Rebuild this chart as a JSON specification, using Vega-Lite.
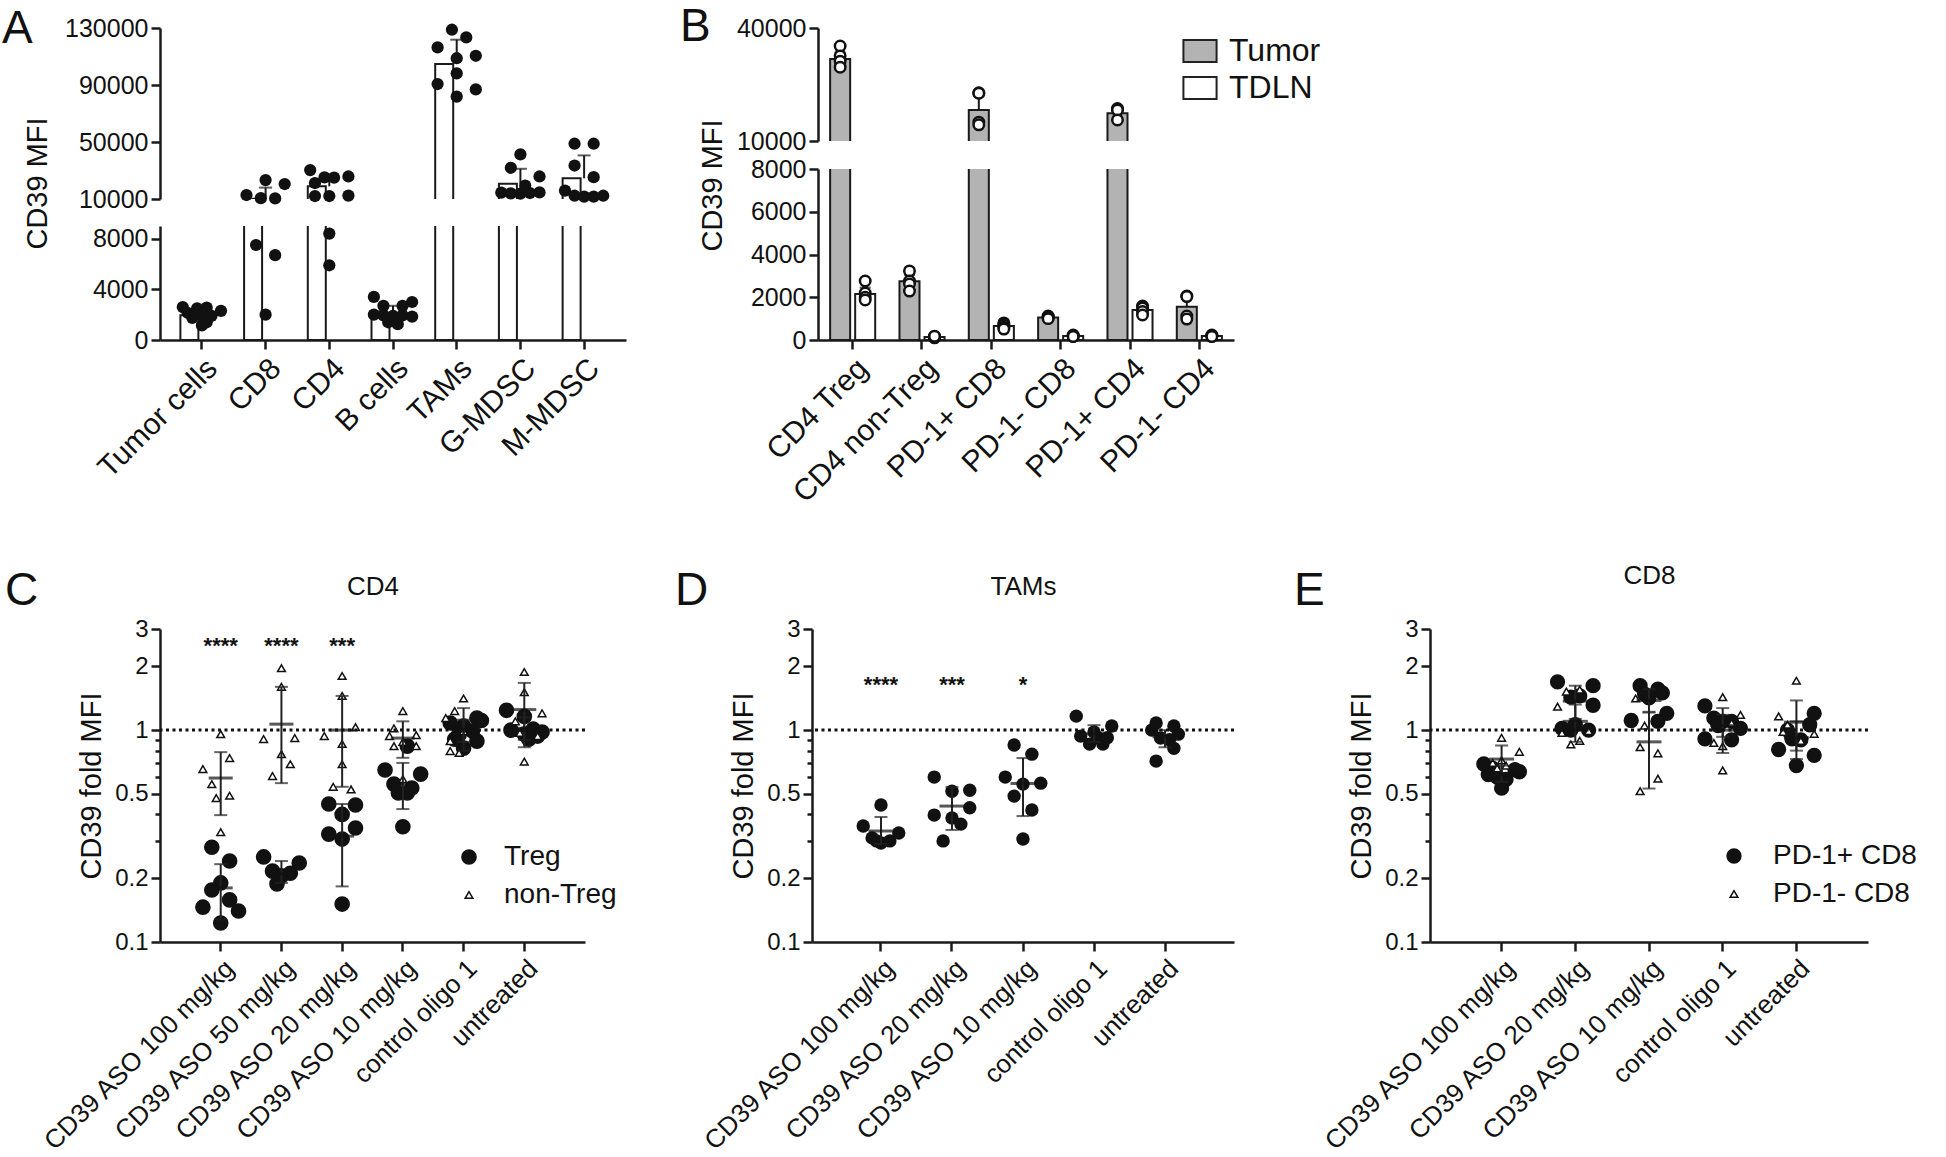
{
"$schema": "https://vega.github.io/schema/vega-lite/v6.json",
"background": "white",
"padding": {"left": 2, "top": 4, "right": 2, "bottom": 2},
"config": {
  "font": "Liberation Sans",
  "view": {"stroke": null},
  "axis": {"domainColor": "#1a1a1a", "domainWidth": 2.5, "tickColor": "#1a1a1a", "tickWidth": 2.5, "tickSize": 9, "labelColor": "#111", "titleColor": "#111", "labelFontSize": 25, "titleFontSize": 29, "titleFontWeight": "normal", "grid": false, "labelPadding": 3, "labelLimit": 400},
  "legend": {"labelColor": "#111", "labelLimit": 400, "padding": 0},
  "title": {"fontWeight": "normal", "color": "#111", "fontSize": 46, "offset": 0}
},
"datasets": {
  "a_pts": [
    {"g":"Tumor cells","v":2600,"r":1},{"g":"Tumor cells","v":2500,"r":4},{"g":"Tumor cells","v":2550,"r":6},{"g":"Tumor cells","v":2300,"r":9},{"g":"Tumor cells","v":2150,"r":2},{"g":"Tumor cells","v":2000,"r":5},{"g":"Tumor cells","v":1900,"r":7},{"g":"Tumor cells","v":1750,"r":3},{"g":"Tumor cells","v":1400,"r":6},{"g":"Tumor cells","v":1150,"r":5},
    {"g":"CD8","v":23300,"r":5},{"g":"CD8","v":20500,"r":9},{"g":"CD8","v":12800,"r":1},{"g":"CD8","v":10600,"r":4},{"g":"CD8","v":10400,"r":7},{"g":"CD8","v":7500,"r":3},{"g":"CD8","v":6700,"r":7},{"g":"CD8","v":2000,"r":5},
    {"g":"CD4","v":30300,"r":1},{"g":"CD4","v":25200,"r":4},{"g":"CD4","v":25000,"r":6},{"g":"CD4","v":25800,"r":9},{"g":"CD4","v":21200,"r":2},{"g":"CD4","v":12100,"r":2},{"g":"CD4","v":12100,"r":5},{"g":"CD4","v":12400,"r":9},{"g":"CD4","v":8400,"r":5},{"g":"CD4","v":5900,"r":5},
    {"g":"B cells","v":3400,"r":1},{"g":"B cells","v":3000,"r":9},{"g":"B cells","v":2700,"r":3},{"g":"B cells","v":2700,"r":7},{"g":"B cells","v":2000,"r":1},{"g":"B cells","v":1950,"r":3},{"g":"B cells","v":1900,"r":5},{"g":"B cells","v":1950,"r":7},{"g":"B cells","v":1850,"r":9},{"g":"B cells","v":1400,"r":4},{"g":"B cells","v":1250,"r":6},
    {"g":"TAMs","v":128800,"r":4},{"g":"TAMs","v":123400,"r":7},{"g":"TAMs","v":116400,"r":1},{"g":"TAMs","v":110500,"r":9},{"g":"TAMs","v":108800,"r":5},{"g":"TAMs","v":98200,"r":5},{"g":"TAMs","v":90700,"r":1},{"g":"TAMs","v":86900,"r":9},{"g":"TAMs","v":81800,"r":5},
    {"g":"G-MDSC","v":41300,"r":5},{"g":"G-MDSC","v":31900,"r":3},{"g":"G-MDSC","v":25800,"r":9},{"g":"G-MDSC","v":19400,"r":6},{"g":"G-MDSC","v":14500,"r":1},{"g":"G-MDSC","v":14000,"r":3},{"g":"G-MDSC","v":13800,"r":5},{"g":"G-MDSC","v":14200,"r":7},{"g":"G-MDSC","v":14600,"r":9},
    {"g":"M-MDSC","v":48800,"r":3},{"g":"M-MDSC","v":48800,"r":7},{"g":"M-MDSC","v":33500,"r":3},{"g":"M-MDSC","v":25300,"r":7},{"g":"M-MDSC","v":15900,"r":1},{"g":"M-MDSC","v":12300,"r":3},{"g":"M-MDSC","v":11700,"r":5},{"g":"M-MDSC","v":11700,"r":7},{"g":"M-MDSC","v":12300,"r":9}
  ],
  "a_sum": [
    {"g":"Tumor cells","m":1950,"hi":2350},{"g":"CD8","m":10200,"hi":18000},{"g":"CD4","m":18900,"hi":23000},{"g":"B cells","m":2140,"hi":2700},{"g":"TAMs","m":104700,"hi":121800},{"g":"G-MDSC","m":20700,"hi":31200},{"g":"M-MDSC","m":24500,"hi":40600}
  ],
  "b_pts": [
    {"g":"CD4 Treg","t":"Tumor","v":35200},{"g":"CD4 Treg","t":"Tumor","v":32600},{"g":"CD4 Treg","t":"Tumor","v":31200},{"g":"CD4 Treg","t":"Tumor","v":29600},
    {"g":"CD4 Treg","t":"TDLN","v":2760},{"g":"CD4 Treg","t":"TDLN","v":2200},{"g":"CD4 Treg","t":"TDLN","v":2000},{"g":"CD4 Treg","t":"TDLN","v":1870},
    {"g":"CD4 non-Treg","t":"Tumor","v":3230},{"g":"CD4 non-Treg","t":"Tumor","v":2760},{"g":"CD4 non-Treg","t":"Tumor","v":2620},{"g":"CD4 non-Treg","t":"Tumor","v":2290},
    {"g":"CD4 non-Treg","t":"TDLN","v":100},{"g":"CD4 non-Treg","t":"TDLN","v":130},{"g":"CD4 non-Treg","t":"TDLN","v":160},{"g":"CD4 non-Treg","t":"TDLN","v":180},
    {"g":"PD-1+ CD8","t":"Tumor","v":22800},{"g":"PD-1+ CD8","t":"Tumor","v":22700},{"g":"PD-1+ CD8","t":"Tumor","v":15000},{"g":"PD-1+ CD8","t":"Tumor","v":14300},
    {"g":"PD-1+ CD8","t":"TDLN","v":800},{"g":"PD-1+ CD8","t":"TDLN","v":700},{"g":"PD-1+ CD8","t":"TDLN","v":600},{"g":"PD-1+ CD8","t":"TDLN","v":510},
    {"g":"PD-1- CD8","t":"Tumor","v":1120},{"g":"PD-1- CD8","t":"Tumor","v":1100},{"g":"PD-1- CD8","t":"Tumor","v":1050},{"g":"PD-1- CD8","t":"Tumor","v":1000},
    {"g":"PD-1- CD8","t":"TDLN","v":230},{"g":"PD-1- CD8","t":"TDLN","v":200},{"g":"PD-1- CD8","t":"TDLN","v":180},{"g":"PD-1- CD8","t":"TDLN","v":160},
    {"g":"PD-1+ CD4","t":"Tumor","v":18600},{"g":"PD-1+ CD4","t":"Tumor","v":18400},{"g":"PD-1+ CD4","t":"Tumor","v":18200},{"g":"PD-1+ CD4","t":"Tumor","v":15600},
    {"g":"PD-1+ CD4","t":"TDLN","v":1590},{"g":"PD-1+ CD4","t":"TDLN","v":1500},{"g":"PD-1+ CD4","t":"TDLN","v":1330},{"g":"PD-1+ CD4","t":"TDLN","v":1170},
    {"g":"PD-1- CD4","t":"Tumor","v":2060},{"g":"PD-1- CD4","t":"Tumor","v":2030},{"g":"PD-1- CD4","t":"Tumor","v":1120},{"g":"PD-1- CD4","t":"Tumor","v":980},
    {"g":"PD-1- CD4","t":"TDLN","v":230},{"g":"PD-1- CD4","t":"TDLN","v":200},{"g":"PD-1- CD4","t":"TDLN","v":180},{"g":"PD-1- CD4","t":"TDLN","v":160}
  ],
  "b_sum": [
    {"g":"CD4 Treg","t":"Tumor","m":31800,"hi":33500},{"g":"CD4 Treg","t":"TDLN","m":2150,"hi":2450},
    {"g":"CD4 non-Treg","t":"Tumor","m":2750,"hi":3050},{"g":"CD4 non-Treg","t":"TDLN","m":140,"hi":170},
    {"g":"PD-1+ CD8","t":"Tumor","m":18200,"hi":21900},{"g":"PD-1+ CD8","t":"TDLN","m":650,"hi":780},
    {"g":"PD-1- CD8","t":"Tumor","m":1050,"hi":1110},{"g":"PD-1- CD8","t":"TDLN","m":190,"hi":230},
    {"g":"PD-1+ CD4","t":"Tumor","m":17400,"hi":18900},{"g":"PD-1+ CD4","t":"TDLN","m":1400,"hi":1580},
    {"g":"PD-1- CD4","t":"Tumor","m":1550,"hi":2100},{"g":"PD-1- CD4","t":"TDLN","m":190,"hi":230}
  ],
  "c_pts": [
    {"g":"CD39 ASO 100 mg/kg","t":"Treg","v":0.28,"r":3},{"g":"CD39 ASO 100 mg/kg","t":"Treg","v":0.241,"r":7},{"g":"CD39 ASO 100 mg/kg","t":"Treg","v":0.19,"r":5},{"g":"CD39 ASO 100 mg/kg","t":"Treg","v":0.176,"r":3},{"g":"CD39 ASO 100 mg/kg","t":"Treg","v":0.158,"r":7},{"g":"CD39 ASO 100 mg/kg","t":"Treg","v":0.146,"r":1},{"g":"CD39 ASO 100 mg/kg","t":"Treg","v":0.14,"r":9},{"g":"CD39 ASO 100 mg/kg","t":"Treg","v":0.123,"r":5},
    {"g":"CD39 ASO 100 mg/kg","t":"non-Treg","v":0.957,"r":5},{"g":"CD39 ASO 100 mg/kg","t":"non-Treg","v":0.738,"r":7},{"g":"CD39 ASO 100 mg/kg","t":"non-Treg","v":0.655,"r":1},{"g":"CD39 ASO 100 mg/kg","t":"non-Treg","v":0.556,"r":3},{"g":"CD39 ASO 100 mg/kg","t":"non-Treg","v":0.478,"r":4},{"g":"CD39 ASO 100 mg/kg","t":"non-Treg","v":0.49,"r":7},{"g":"CD39 ASO 100 mg/kg","t":"non-Treg","v":0.33,"r":5},
    {"g":"CD39 ASO 50 mg/kg","t":"Treg","v":0.252,"r":1},{"g":"CD39 ASO 50 mg/kg","t":"Treg","v":0.236,"r":9},{"g":"CD39 ASO 50 mg/kg","t":"Treg","v":0.216,"r":3},{"g":"CD39 ASO 50 mg/kg","t":"Treg","v":0.211,"r":7},{"g":"CD39 ASO 50 mg/kg","t":"Treg","v":0.205,"r":5},{"g":"CD39 ASO 50 mg/kg","t":"Treg","v":0.188,"r":4},
    {"g":"CD39 ASO 50 mg/kg","t":"non-Treg","v":1.96,"r":5},{"g":"CD39 ASO 50 mg/kg","t":"non-Treg","v":1.6,"r":5},{"g":"CD39 ASO 50 mg/kg","t":"non-Treg","v":0.907,"r":1},{"g":"CD39 ASO 50 mg/kg","t":"non-Treg","v":0.917,"r":8},{"g":"CD39 ASO 50 mg/kg","t":"non-Treg","v":0.77,"r":5},{"g":"CD39 ASO 50 mg/kg","t":"non-Treg","v":0.69,"r":7},{"g":"CD39 ASO 50 mg/kg","t":"non-Treg","v":0.607,"r":3},
    {"g":"CD39 ASO 20 mg/kg","t":"Treg","v":0.448,"r":2},{"g":"CD39 ASO 20 mg/kg","t":"Treg","v":0.443,"r":8},{"g":"CD39 ASO 20 mg/kg","t":"Treg","v":0.40,"r":5},{"g":"CD39 ASO 20 mg/kg","t":"Treg","v":0.323,"r":2},{"g":"CD39 ASO 20 mg/kg","t":"Treg","v":0.345,"r":8},{"g":"CD39 ASO 20 mg/kg","t":"Treg","v":0.306,"r":5},{"g":"CD39 ASO 20 mg/kg","t":"Treg","v":0.151,"r":5},
    {"g":"CD39 ASO 20 mg/kg","t":"non-Treg","v":1.8,"r":5},{"g":"CD39 ASO 20 mg/kg","t":"non-Treg","v":1.45,"r":5},{"g":"CD39 ASO 20 mg/kg","t":"non-Treg","v":0.937,"r":1},{"g":"CD39 ASO 20 mg/kg","t":"non-Treg","v":1.033,"r":8},{"g":"CD39 ASO 20 mg/kg","t":"non-Treg","v":0.86,"r":5},{"g":"CD39 ASO 20 mg/kg","t":"non-Treg","v":0.69,"r":5},{"g":"CD39 ASO 20 mg/kg","t":"non-Treg","v":0.54,"r":3},{"g":"CD39 ASO 20 mg/kg","t":"non-Treg","v":0.525,"r":7},
    {"g":"CD39 ASO 10 mg/kg","t":"Treg","v":0.84,"r":6},{"g":"CD39 ASO 10 mg/kg","t":"Treg","v":0.648,"r":1},{"g":"CD39 ASO 10 mg/kg","t":"Treg","v":0.62,"r":9},{"g":"CD39 ASO 10 mg/kg","t":"Treg","v":0.556,"r":3},{"g":"CD39 ASO 10 mg/kg","t":"Treg","v":0.533,"r":7},{"g":"CD39 ASO 10 mg/kg","t":"Treg","v":0.505,"r":4},{"g":"CD39 ASO 10 mg/kg","t":"Treg","v":0.505,"r":6},{"g":"CD39 ASO 10 mg/kg","t":"Treg","v":0.35,"r":5},
    {"g":"CD39 ASO 10 mg/kg","t":"non-Treg","v":1.23,"r":5},{"g":"CD39 ASO 10 mg/kg","t":"non-Treg","v":1.02,"r":3},{"g":"CD39 ASO 10 mg/kg","t":"non-Treg","v":0.947,"r":8},{"g":"CD39 ASO 10 mg/kg","t":"non-Treg","v":0.937,"r":2},{"g":"CD39 ASO 10 mg/kg","t":"non-Treg","v":0.84,"r":3},{"g":"CD39 ASO 10 mg/kg","t":"non-Treg","v":0.84,"r":8},{"g":"CD39 ASO 10 mg/kg","t":"non-Treg","v":0.88,"r":5},{"g":"CD39 ASO 10 mg/kg","t":"non-Treg","v":0.587,"r":5},
    {"g":"control oligo 1","t":"Treg","v":1.14,"r":8},{"g":"control oligo 1","t":"Treg","v":1.11,"r":9},{"g":"control oligo 1","t":"Treg","v":1.08,"r":2},{"g":"control oligo 1","t":"Treg","v":1.045,"r":5},{"g":"control oligo 1","t":"Treg","v":0.99,"r":7},{"g":"control oligo 1","t":"Treg","v":0.906,"r":3},{"g":"control oligo 1","t":"Treg","v":0.887,"r":8},{"g":"control oligo 1","t":"Treg","v":0.822,"r":5},{"g":"control oligo 1","t":"Treg","v":0.95,"r":4},
    {"g":"control oligo 1","t":"non-Treg","v":1.41,"r":5},{"g":"control oligo 1","t":"non-Treg","v":1.23,"r":3},{"g":"control oligo 1","t":"non-Treg","v":1.14,"r":1},{"g":"control oligo 1","t":"non-Treg","v":0.99,"r":5},{"g":"control oligo 1","t":"non-Treg","v":0.887,"r":2},{"g":"control oligo 1","t":"non-Treg","v":0.796,"r":2},{"g":"control oligo 1","t":"non-Treg","v":0.78,"r":4},
    {"g":"untreated","t":"Treg","v":1.24,"r":1},{"g":"untreated","t":"Treg","v":1.16,"r":5},{"g":"untreated","t":"Treg","v":1.0,"r":2},{"g":"untreated","t":"Treg","v":1.01,"r":7},{"g":"untreated","t":"Treg","v":0.957,"r":5},{"g":"untreated","t":"Treg","v":0.937,"r":8},{"g":"untreated","t":"Treg","v":0.906,"r":6},{"g":"untreated","t":"Treg","v":0.98,"r":9},
    {"g":"untreated","t":"non-Treg","v":1.88,"r":5},{"g":"untreated","t":"non-Treg","v":1.51,"r":5},{"g":"untreated","t":"non-Treg","v":1.2,"r":9},{"g":"untreated","t":"non-Treg","v":1.1,"r":3},{"g":"untreated","t":"non-Treg","v":0.937,"r":8},{"g":"untreated","t":"non-Treg","v":0.71,"r":5},{"g":"untreated","t":"non-Treg","v":0.97,"r":4}
  ],
  "c_sum": [
    {"g":"CD39 ASO 100 mg/kg","t":"Treg","m":0.18,"lo":0.128,"hi":0.233},{"g":"CD39 ASO 100 mg/kg","t":"non-Treg","m":0.594,"lo":0.397,"hi":0.787},
    {"g":"CD39 ASO 50 mg/kg","t":"Treg","m":0.21,"lo":0.19,"hi":0.241},{"g":"CD39 ASO 50 mg/kg","t":"non-Treg","m":1.067,"lo":0.562,"hi":1.6},
    {"g":"CD39 ASO 20 mg/kg","t":"Treg","m":0.316,"lo":0.183,"hi":0.448},{"g":"CD39 ASO 20 mg/kg","t":"non-Treg","m":1.0,"lo":0.54,"hi":1.45},
    {"g":"CD39 ASO 10 mg/kg","t":"Treg","m":0.556,"lo":0.424,"hi":0.70},{"g":"CD39 ASO 10 mg/kg","t":"non-Treg","m":0.917,"lo":0.74,"hi":1.1},
    {"g":"control oligo 1","t":"Treg","m":0.99,"lo":0.88,"hi":1.12},{"g":"control oligo 1","t":"non-Treg","m":1.01,"lo":0.80,"hi":1.27},
    {"g":"untreated","t":"Treg","m":1.02,"lo":0.90,"hi":1.15},{"g":"untreated","t":"non-Treg","m":1.25,"lo":0.83,"hi":1.67}
  ],
  "c_sig": [
    {"g":"CD39 ASO 100 mg/kg","s":"****"},{"g":"CD39 ASO 50 mg/kg","s":"****"},{"g":"CD39 ASO 20 mg/kg","s":"***"}
  ],
  "d_pts": [
    {"g":"CD39 ASO 100 mg/kg","v":0.443,"r":5},{"g":"CD39 ASO 100 mg/kg","v":0.353,"r":1},{"g":"CD39 ASO 100 mg/kg","v":0.31,"r":3},{"g":"CD39 ASO 100 mg/kg","v":0.293,"r":5},{"g":"CD39 ASO 100 mg/kg","v":0.30,"r":7},{"g":"CD39 ASO 100 mg/kg","v":0.327,"r":9},{"g":"CD39 ASO 100 mg/kg","v":0.30,"r":4},
    {"g":"CD39 ASO 20 mg/kg","v":0.60,"r":1},{"g":"CD39 ASO 20 mg/kg","v":0.515,"r":5},{"g":"CD39 ASO 20 mg/kg","v":0.52,"r":9},{"g":"CD39 ASO 20 mg/kg","v":0.397,"r":1},{"g":"CD39 ASO 20 mg/kg","v":0.43,"r":9},{"g":"CD39 ASO 20 mg/kg","v":0.385,"r":5},{"g":"CD39 ASO 20 mg/kg","v":0.36,"r":7},{"g":"CD39 ASO 20 mg/kg","v":0.30,"r":3},
    {"g":"CD39 ASO 10 mg/kg","v":0.85,"r":3},{"g":"CD39 ASO 10 mg/kg","v":0.77,"r":7},{"g":"CD39 ASO 10 mg/kg","v":0.60,"r":1},{"g":"CD39 ASO 10 mg/kg","v":0.556,"r":5},{"g":"CD39 ASO 10 mg/kg","v":0.562,"r":9},{"g":"CD39 ASO 10 mg/kg","v":0.488,"r":3},{"g":"CD39 ASO 10 mg/kg","v":0.42,"r":7},{"g":"CD39 ASO 10 mg/kg","v":0.306,"r":5},
    {"g":"control oligo 1","v":1.164,"r":1},{"g":"control oligo 1","v":1.045,"r":9},{"g":"control oligo 1","v":0.937,"r":2},{"g":"control oligo 1","v":0.917,"r":6},{"g":"control oligo 1","v":0.859,"r":4},{"g":"control oligo 1","v":0.86,"r":7},{"g":"control oligo 1","v":0.92,"r":8},{"g":"control oligo 1","v":0.98,"r":5},
    {"g":"untreated","v":1.08,"r":3},{"g":"untreated","v":1.045,"r":7},{"g":"untreated","v":1.0,"r":2},{"g":"untreated","v":0.957,"r":8},{"g":"untreated","v":0.917,"r":4},{"g":"untreated","v":0.90,"r":6},{"g":"untreated","v":0.82,"r":7},{"g":"untreated","v":0.714,"r":3}
  ],
  "d_sum": [
    {"g":"CD39 ASO 100 mg/kg","m":0.334,"lo":0.29,"hi":0.389},{"g":"CD39 ASO 20 mg/kg","m":0.438,"lo":0.338,"hi":0.538},{"g":"CD39 ASO 10 mg/kg","m":0.56,"lo":0.393,"hi":0.738},{"g":"control oligo 1","m":0.96,"lo":0.88,"hi":1.055},{"g":"untreated","m":0.93,"lo":0.83,"hi":1.0}
  ],
  "d_sig": [
    {"g":"CD39 ASO 100 mg/kg","s":"****"},{"g":"CD39 ASO 20 mg/kg","s":"***"},{"g":"CD39 ASO 10 mg/kg","s":"*"}
  ],
  "e_pts": [
    {"g":"CD39 ASO 100 mg/kg","t":"PD-1+ CD8","v":0.692,"r":1},{"g":"CD39 ASO 100 mg/kg","t":"PD-1+ CD8","v":0.66,"r":3},{"g":"CD39 ASO 100 mg/kg","t":"PD-1+ CD8","v":0.617,"r":2},{"g":"CD39 ASO 100 mg/kg","t":"PD-1+ CD8","v":0.636,"r":9},{"g":"CD39 ASO 100 mg/kg","t":"PD-1+ CD8","v":0.585,"r":6},{"g":"CD39 ASO 100 mg/kg","t":"PD-1+ CD8","v":0.60,"r":4},{"g":"CD39 ASO 100 mg/kg","t":"PD-1+ CD8","v":0.532,"r":5},{"g":"CD39 ASO 100 mg/kg","t":"PD-1+ CD8","v":0.65,"r":8},
    {"g":"CD39 ASO 100 mg/kg","t":"PD-1- CD8","v":0.92,"r":5},{"g":"CD39 ASO 100 mg/kg","t":"PD-1- CD8","v":0.79,"r":9},{"g":"CD39 ASO 100 mg/kg","t":"PD-1- CD8","v":0.70,"r":3},{"g":"CD39 ASO 100 mg/kg","t":"PD-1- CD8","v":0.68,"r":6},{"g":"CD39 ASO 100 mg/kg","t":"PD-1- CD8","v":0.66,"r":4},{"g":"CD39 ASO 100 mg/kg","t":"PD-1- CD8","v":0.72,"r":5},
    {"g":"CD39 ASO 20 mg/kg","t":"PD-1+ CD8","v":1.69,"r":1},{"g":"CD39 ASO 20 mg/kg","t":"PD-1+ CD8","v":1.62,"r":9},{"g":"CD39 ASO 20 mg/kg","t":"PD-1+ CD8","v":1.45,"r":6},{"g":"CD39 ASO 20 mg/kg","t":"PD-1+ CD8","v":1.43,"r":4},{"g":"CD39 ASO 20 mg/kg","t":"PD-1+ CD8","v":1.31,"r":9},{"g":"CD39 ASO 20 mg/kg","t":"PD-1+ CD8","v":1.02,"r":2},{"g":"CD39 ASO 20 mg/kg","t":"PD-1+ CD8","v":1.0,"r":8},{"g":"CD39 ASO 20 mg/kg","t":"PD-1+ CD8","v":1.06,"r":5},{"g":"CD39 ASO 20 mg/kg","t":"PD-1+ CD8","v":1.0,"r":4},
    {"g":"CD39 ASO 20 mg/kg","t":"PD-1- CD8","v":1.55,"r":6},{"g":"CD39 ASO 20 mg/kg","t":"PD-1- CD8","v":1.52,"r":3},{"g":"CD39 ASO 20 mg/kg","t":"PD-1- CD8","v":1.29,"r":1},{"g":"CD39 ASO 20 mg/kg","t":"PD-1- CD8","v":0.99,"r":8},{"g":"CD39 ASO 20 mg/kg","t":"PD-1- CD8","v":0.97,"r":2},{"g":"CD39 ASO 20 mg/kg","t":"PD-1- CD8","v":0.89,"r":6},{"g":"CD39 ASO 20 mg/kg","t":"PD-1- CD8","v":0.855,"r":4},
    {"g":"CD39 ASO 10 mg/kg","t":"PD-1+ CD8","v":1.62,"r":3},{"g":"CD39 ASO 10 mg/kg","t":"PD-1+ CD8","v":1.56,"r":7},{"g":"CD39 ASO 10 mg/kg","t":"PD-1+ CD8","v":1.5,"r":8},{"g":"CD39 ASO 10 mg/kg","t":"PD-1+ CD8","v":1.48,"r":4},{"g":"CD39 ASO 10 mg/kg","t":"PD-1+ CD8","v":1.2,"r":9},{"g":"CD39 ASO 10 mg/kg","t":"PD-1+ CD8","v":1.11,"r":1},{"g":"CD39 ASO 10 mg/kg","t":"PD-1+ CD8","v":1.1,"r":7},{"g":"CD39 ASO 10 mg/kg","t":"PD-1+ CD8","v":1.42,"r":5},
    {"g":"CD39 ASO 10 mg/kg","t":"PD-1- CD8","v":1.41,"r":2},{"g":"CD39 ASO 10 mg/kg","t":"PD-1- CD8","v":1.05,"r":4},{"g":"CD39 ASO 10 mg/kg","t":"PD-1- CD8","v":0.83,"r":3},{"g":"CD39 ASO 10 mg/kg","t":"PD-1- CD8","v":0.777,"r":7},{"g":"CD39 ASO 10 mg/kg","t":"PD-1- CD8","v":0.59,"r":7},{"g":"CD39 ASO 10 mg/kg","t":"PD-1- CD8","v":0.515,"r":3},
    {"g":"control oligo 1","t":"PD-1+ CD8","v":1.3,"r":1},{"g":"control oligo 1","t":"PD-1+ CD8","v":1.14,"r":3},{"g":"control oligo 1","t":"PD-1+ CD8","v":1.1,"r":5},{"g":"control oligo 1","t":"PD-1+ CD8","v":1.1,"r":7},{"g":"control oligo 1","t":"PD-1+ CD8","v":1.02,"r":9},{"g":"control oligo 1","t":"PD-1+ CD8","v":0.91,"r":1},{"g":"control oligo 1","t":"PD-1+ CD8","v":0.90,"r":7},{"g":"control oligo 1","t":"PD-1+ CD8","v":1.05,"r":4},
    {"g":"control oligo 1","t":"PD-1- CD8","v":1.43,"r":5},{"g":"control oligo 1","t":"PD-1- CD8","v":1.18,"r":9},{"g":"control oligo 1","t":"PD-1- CD8","v":0.87,"r":3},{"g":"control oligo 1","t":"PD-1- CD8","v":0.84,"r":5},{"g":"control oligo 1","t":"PD-1- CD8","v":0.645,"r":5},{"g":"control oligo 1","t":"PD-1- CD8","v":1.08,"r":7},
    {"g":"untreated","t":"PD-1+ CD8","v":1.2,"r":9},{"g":"untreated","t":"PD-1+ CD8","v":1.06,"r":8},{"g":"untreated","t":"PD-1+ CD8","v":0.81,"r":1},{"g":"untreated","t":"PD-1+ CD8","v":0.76,"r":9},{"g":"untreated","t":"PD-1+ CD8","v":0.68,"r":5},{"g":"untreated","t":"PD-1+ CD8","v":0.91,"r":4},{"g":"untreated","t":"PD-1+ CD8","v":0.90,"r":6},{"g":"untreated","t":"PD-1+ CD8","v":1.0,"r":3},
    {"g":"untreated","t":"PD-1- CD8","v":1.71,"r":5},{"g":"untreated","t":"PD-1- CD8","v":1.16,"r":1},{"g":"untreated","t":"PD-1- CD8","v":1.06,"r":3},{"g":"untreated","t":"PD-1- CD8","v":0.98,"r":2},{"g":"untreated","t":"PD-1- CD8","v":0.96,"r":9},{"g":"untreated","t":"PD-1- CD8","v":0.89,"r":6}
  ],
  "e_sum": [
    {"g":"CD39 ASO 100 mg/kg","t":"PD-1+ CD8","m":0.62,"lo":0.57,"hi":0.68},{"g":"CD39 ASO 100 mg/kg","t":"PD-1- CD8","m":0.73,"lo":0.62,"hi":0.846},
    {"g":"CD39 ASO 20 mg/kg","t":"PD-1+ CD8","m":1.37,"lo":1.13,"hi":1.62},{"g":"CD39 ASO 20 mg/kg","t":"PD-1- CD8","m":1.1,"lo":0.88,"hi":1.32},
    {"g":"CD39 ASO 10 mg/kg","t":"PD-1+ CD8","m":1.38,"lo":1.21,"hi":1.56},{"g":"CD39 ASO 10 mg/kg","t":"PD-1- CD8","m":0.88,"lo":0.53,"hi":1.22},
    {"g":"control oligo 1","t":"PD-1+ CD8","m":1.05,"lo":0.93,"hi":1.18},{"g":"control oligo 1","t":"PD-1- CD8","m":1.0,"lo":0.78,"hi":1.27},
    {"g":"untreated","t":"PD-1+ CD8","m":0.92,"lo":0.73,"hi":1.1},{"g":"untreated","t":"PD-1- CD8","m":1.09,"lo":0.8,"hi":1.38}
  ]
},
"spacing": 54,
"resolve": {"scale": {"x": "independent", "y": "independent", "xOffset": "independent", "fill": "independent", "shape": "independent", "size": "independent"}, "legend": {"fill": "independent", "shape": "independent", "size": "independent"}},
"vconcat": [
 {
  "spacing": 54,
  "resolve": {"scale": {"x": "independent", "y": "independent", "xOffset": "independent", "fill": "independent", "shape": "independent", "size": "independent"}, "legend": {"fill": "independent", "shape": "independent", "size": "independent"}},
  "hconcat": [
   {
    "spacing": 27,
    "bounds": "flush",
    "resolve": {"scale": {"x": "independent", "y": "independent", "xOffset": "independent"}},
    "vconcat": [
     {
      "width": 466, "height": 171,
      "title": {"text": "A", "anchor": "start", "frame": "group", "dx": -158, "dy": 77, "baseline": "alphabetic"},
      "layer": [
       {"data": {"name": "a_sum"}, "mark": {"type": "bar", "clip": true, "fill": "white", "stroke": "#1a1a1a", "strokeWidth": 2},
        "encoding": {
          "x": {"field": "g", "type": "nominal", "scale": {"domain": ["Tumor cells","CD8","CD4","B cells","TAMs","G-MDSC","M-MDSC"], "paddingInner": 0.325, "paddingOuter": 0.32}, "axis": null},
          "y": {"field": "m", "type": "quantitative", "scale": {"domain": [10000, 130000], "nice": false, "zero": false}, "axis": {"values": [10000,30000,50000,70000,90000,110000,130000], "format": "d", "title": "CD39 MFI", "titleY": 155, "titlePadding": 12}}
        }},
       {"data": {"name": "a_sum"}, "mark": {"type": "rule", "clip": true, "strokeWidth": 2, "color": "#1a1a1a"},
        "encoding": {"x": {"field": "g", "type": "nominal", "axis": null}, "y": {"field": "m", "type": "quantitative"}, "y2": {"field": "hi"}}},
       {"data": {"name": "a_sum"}, "mark": {"type": "tick", "clip": true, "size": 13, "thickness": 2, "color": "#1a1a1a"},
        "encoding": {"x": {"field": "g", "type": "nominal", "axis": null}, "y": {"field": "hi", "type": "quantitative"}}},
       {"data": {"name": "a_pts"}, "transform": [{"filter": "datum.v >= 9500"}], "mark": {"type": "circle", "size": 150, "opacity": 1, "color": "#111"},
        "encoding": {"x": {"field": "g", "type": "nominal", "axis": null}, "xOffset": {"field": "r", "type": "ordinal", "scale": {"domain": [1,2,3,4,5,6,7,8,9], "paddingOuter": 0.5}}, "y": {"field": "v", "type": "quantitative"}}}
      ]
     },
     {
      "width": 466, "height": 114,
      "layer": [
       {"data": {"name": "a_sum"}, "mark": {"type": "bar", "clip": true, "fill": "white", "stroke": "#1a1a1a", "strokeWidth": 2},
        "encoding": {
          "x": {"field": "g", "type": "nominal", "scale": {"domain": ["Tumor cells","CD8","CD4","B cells","TAMs","G-MDSC","M-MDSC"], "paddingInner": 0.325, "paddingOuter": 0.32}, "axis": {"title": null, "labelAngle": -45, "labelFontSize": 30, "labelOverlap": false, "labelPadding": 4}},
          "y": {"field": "m", "type": "quantitative", "scale": {"domain": [0, 9000], "nice": false}, "axis": {"values": [0,2000,4000,6000,8000], "format": "d", "title": null}}
        }},
       {"data": {"name": "a_sum"}, "mark": {"type": "rule", "clip": true, "strokeWidth": 2, "color": "#1a1a1a"},
        "encoding": {"x": {"field": "g", "type": "nominal"}, "y": {"field": "m", "type": "quantitative"}, "y2": {"field": "hi"}}},
       {"data": {"name": "a_sum"}, "mark": {"type": "tick", "clip": true, "size": 13, "thickness": 2, "color": "#1a1a1a"},
        "encoding": {"x": {"field": "g", "type": "nominal"}, "y": {"field": "hi", "type": "quantitative"}}},
       {"data": {"name": "a_pts"}, "transform": [{"filter": "datum.v <= 9000"}], "mark": {"type": "circle", "size": 150, "opacity": 1, "color": "#111"},
        "encoding": {"x": {"field": "g", "type": "nominal"}, "xOffset": {"field": "r", "type": "ordinal", "scale": {"domain": [1,2,3,4,5,6,7,8,9], "paddingOuter": 0.5}}, "y": {"field": "v", "type": "quantitative"}}}
      ]
     }
    ]
   },
   {
    "spacing": 28,
    "bounds": "flush",
    "resolve": {"scale": {"x": "independent", "y": "independent", "xOffset": "independent", "fill": "independent"}, "legend": {"fill": "independent"}},
    "vconcat": [
     {
      "width": 416, "height": 113,
      "title": {"text": "B", "anchor": "start", "frame": "group", "dx": -138, "dy": 75, "baseline": "alphabetic"},
      "layer": [
       {"data": {"name": "b_sum"}, "mark": {"type": "bar", "clip": true, "stroke": "#1a1a1a", "strokeWidth": 2},
        "encoding": {
          "x": {"field": "g", "type": "nominal", "scale": {"domain": ["CD4 Treg","CD4 non-Treg","PD-1+ CD8","PD-1- CD8","PD-1+ CD4","PD-1- CD4"], "paddingInner": 0.35, "paddingOuter": 0.175}, "axis": null},
          "xOffset": {"field": "t", "type": "nominal", "scale": {"domain": ["Tumor","TDLN"], "paddingInner": 0.2, "paddingOuter": 0}},
          "y": {"field": "m", "type": "quantitative", "scale": {"domain": [10000, 40000], "nice": false, "zero": false}, "axis": {"values": [10000,20000,30000,40000], "format": "d", "title": "CD39 MFI", "titleY": 157, "titlePadding": 9}},
          "fill": {"field": "t", "type": "nominal", "scale": {"domain": ["Tumor","TDLN"], "range": ["#b3b3b3","white"]},
                   "legend": {"orient": "none", "legendX": 364, "legendY": 5, "title": null, "symbolType": "M-1,-0.66H1V0.66H-1Z", "symbolSize": 1100, "symbolStrokeColor": "#222", "symbolStrokeWidth": 2, "labelFontSize": 32, "labelOffset": 11, "rowPadding": 3}}
        }},
       {"data": {"name": "b_sum"}, "mark": {"type": "rule", "clip": true, "strokeWidth": 2, "color": "#1a1a1a"},
        "encoding": {"x": {"field": "g", "type": "nominal", "axis": null}, "xOffset": {"field": "t", "type": "nominal"}, "y": {"field": "m", "type": "quantitative"}, "y2": {"field": "hi"}}},
       {"data": {"name": "b_sum"}, "mark": {"type": "tick", "clip": true, "size": 11, "thickness": 2, "color": "#1a1a1a"},
        "encoding": {"x": {"field": "g", "type": "nominal", "axis": null}, "xOffset": {"field": "t", "type": "nominal"}, "y": {"field": "hi", "type": "quantitative"}}},
       {"data": {"name": "b_pts"}, "transform": [{"filter": "datum.v >= 10000"}], "mark": {"type": "point", "filled": true, "fill": "white", "stroke": "#111", "strokeWidth": 2.5, "size": 110, "opacity": 1},
        "encoding": {"x": {"field": "g", "type": "nominal", "axis": null}, "xOffset": {"field": "t", "type": "nominal"}, "y": {"field": "v", "type": "quantitative"}}}
      ]
     },
     {
      "width": 416, "height": 171,
      "layer": [
       {"data": {"name": "b_sum"}, "mark": {"type": "bar", "clip": true, "stroke": "#1a1a1a", "strokeWidth": 2},
        "encoding": {
          "x": {"field": "g", "type": "nominal", "scale": {"domain": ["CD4 Treg","CD4 non-Treg","PD-1+ CD8","PD-1- CD8","PD-1+ CD4","PD-1- CD4"], "paddingInner": 0.35, "paddingOuter": 0.175}, "axis": {"title": null, "labelAngle": -45, "labelFontSize": 30, "labelOverlap": false, "labelPadding": 4}},
          "xOffset": {"field": "t", "type": "nominal", "scale": {"domain": ["Tumor","TDLN"], "paddingInner": 0.2, "paddingOuter": 0}},
          "y": {"field": "m", "type": "quantitative", "scale": {"domain": [0, 8000], "nice": false}, "axis": {"values": [0,2000,4000,6000,8000], "format": "d", "title": null}},
          "fill": {"field": "t", "type": "nominal", "scale": {"domain": ["Tumor","TDLN"], "range": ["#b3b3b3","white"]}, "legend": null}
        }},
       {"data": {"name": "b_sum"}, "mark": {"type": "rule", "clip": true, "strokeWidth": 2, "color": "#1a1a1a"},
        "encoding": {"x": {"field": "g", "type": "nominal"}, "xOffset": {"field": "t", "type": "nominal"}, "y": {"field": "m", "type": "quantitative"}, "y2": {"field": "hi"}}},
       {"data": {"name": "b_sum"}, "mark": {"type": "tick", "clip": true, "size": 11, "thickness": 2, "color": "#1a1a1a"},
        "encoding": {"x": {"field": "g", "type": "nominal"}, "xOffset": {"field": "t", "type": "nominal"}, "y": {"field": "hi", "type": "quantitative"}}},
       {"data": {"name": "b_pts"}, "transform": [{"filter": "datum.v <= 8000"}], "mark": {"type": "point", "filled": true, "fill": "white", "stroke": "#111", "strokeWidth": 2.5, "size": 110, "opacity": 1},
        "encoding": {"x": {"field": "g", "type": "nominal"}, "xOffset": {"field": "t", "type": "nominal"}, "y": {"field": "v", "type": "quantitative"}}}
      ]
     }
    ]
   }
  ]
 },
 {
  "spacing": 58,
  "resolve": {"scale": {"x": "independent", "y": "independent", "xOffset": "independent", "fill": "independent", "shape": "independent", "size": "independent"}, "legend": {"fill": "independent", "shape": "independent", "size": "independent"}},
  "hconcat": [
   {
    "width": 425, "height": 313,
    "title": {"text": "C", "anchor": "start", "frame": "group", "dx": -155, "dy": 82, "baseline": "alphabetic"},
    "resolve": {"axis": {"x": "independent", "y": "independent"}},
    "layer": [
     {"data": {"name": "c_pts"}, "mark": {"type": "point", "filled": true, "stroke": "#111", "strokeWidth": 1.5, "opacity": 1},
      "encoding": {
        "x": {"field": "g", "type": "nominal", "scale": {"domain": ["CD39 ASO 100 mg/kg","CD39 ASO 50 mg/kg","CD39 ASO 20 mg/kg","CD39 ASO 10 mg/kg","control oligo 1","untreated"], "paddingInner": 0.34, "paddingOuter": 0.67}, "axis": {"title": null, "labelAngle": -45, "labelFontSize": 26, "labelOverlap": false, "labelPadding": 4}},
        "xOffset": {"field": "r", "type": "ordinal", "scale": {"domain": [1,2,3,4,5,6,7,8,9], "paddingOuter": 0.5}},
        "y": {"field": "v", "type": "quantitative", "scale": {"type": "log", "domain": [0.1, 3], "nice": false}, "axis": {"values": [0.1,0.2,0.5,1,2,3], "format": "~g", "title": "CD39 fold MFI", "labelFontSize": 24, "titlePadding": 8}},
        "shape": {"field": "t", "type": "nominal", "scale": {"domain": ["Treg","non-Treg"], "range": ["circle","triangle-up"]},
                  "legend": {"orient": "none", "legendX": 295, "legendY": 214, "title": null, "labelFontSize": 28, "symbolStrokeColor": "#111", "symbolStrokeWidth": 1.5, "rowPadding": 10, "labelOffset": 21}},
        "fill": {"field": "t", "type": "nominal", "scale": {"domain": ["Treg","non-Treg"], "range": ["#111","white"]}},
        "size": {"field": "t", "type": "nominal", "scale": {"domain": ["Treg","non-Treg"], "range": [200, 60]}}
      }},
     {"data": {"name": "c_sum"}, "mark": {"type": "rule", "strokeWidth": 2, "color": "#222"},
      "encoding": {"x": {"field": "g", "type": "nominal", "axis": null}, "y": {"field": "lo", "type": "quantitative", "axis": null}, "y2": {"field": "hi"}}},
     {"data": {"name": "c_sum"}, "mark": {"type": "tick", "size": 13, "thickness": 2, "color": "#222"},
      "encoding": {"x": {"field": "g", "type": "nominal", "axis": null}, "y": {"field": "lo", "type": "quantitative", "axis": null}}},
     {"data": {"name": "c_sum"}, "mark": {"type": "tick", "size": 13, "thickness": 2, "color": "#222"},
      "encoding": {"x": {"field": "g", "type": "nominal", "axis": null}, "y": {"field": "hi", "type": "quantitative", "axis": null}}},
     {"data": {"name": "c_sum"}, "mark": {"type": "tick", "size": 24, "thickness": 3, "color": "#111"},
      "encoding": {"x": {"field": "g", "type": "nominal", "axis": {"orient": "top", "title": "CD4", "labels": false, "ticks": false, "domain": false, "titleFontSize": 26, "titlePadding": 30}},
                   "y": {"field": "m", "type": "quantitative", "axis": {"orient": "left", "values": [0.3,0.4,0.6,0.7,0.8,0.9], "labels": false, "domain": false, "tickSize": 5, "title": null}}}},
     {"data": {"name": "c_sig"}, "mark": {"type": "text", "fontSize": 22, "fontWeight": "bold", "baseline": "middle", "color": "#111"},
      "encoding": {"x": {"field": "g", "type": "nominal", "axis": null}, "y": {"datum": 2.49, "axis": null}, "text": {"field": "s"}}},
     {"data": {"values": [{}]}, "mark": {"type": "rule", "strokeDash": [3, 3.5], "strokeWidth": 3, "color": "#111"},
      "encoding": {"y": {"datum": 1, "axis": null}}}
    ]
   },
   {
    "width": 422, "height": 313,
    "title": {"text": "D", "anchor": "start", "frame": "group", "dx": -137, "dy": 82, "baseline": "alphabetic"},
    "resolve": {"axis": {"x": "independent", "y": "independent"}},
    "layer": [
     {"data": {"name": "d_pts"}, "mark": {"type": "circle", "size": 180, "opacity": 1, "color": "#111"},
      "encoding": {
        "x": {"field": "g", "type": "nominal", "scale": {"domain": ["CD39 ASO 100 mg/kg","CD39 ASO 20 mg/kg","CD39 ASO 10 mg/kg","control oligo 1","untreated"], "paddingInner": 0.437, "paddingOuter": 0.69}, "axis": {"title": null, "labelAngle": -45, "labelFontSize": 26, "labelOverlap": false, "labelPadding": 4}},
        "xOffset": {"field": "r", "type": "ordinal", "scale": {"domain": [1,2,3,4,5,6,7,8,9], "paddingOuter": 0.5}},
        "y": {"field": "v", "type": "quantitative", "scale": {"type": "log", "domain": [0.1, 3], "nice": false}, "axis": {"values": [0.1,0.2,0.5,1,2,3], "format": "~g", "title": "CD39 fold MFI", "labelFontSize": 24, "titlePadding": 8}}
      }},
     {"data": {"name": "d_sum"}, "mark": {"type": "rule", "strokeWidth": 2, "color": "#222"},
      "encoding": {"x": {"field": "g", "type": "nominal", "axis": null}, "y": {"field": "lo", "type": "quantitative", "axis": null}, "y2": {"field": "hi"}}},
     {"data": {"name": "d_sum"}, "mark": {"type": "tick", "size": 13, "thickness": 2, "color": "#222"},
      "encoding": {"x": {"field": "g", "type": "nominal", "axis": null}, "y": {"field": "lo", "type": "quantitative", "axis": null}}},
     {"data": {"name": "d_sum"}, "mark": {"type": "tick", "size": 13, "thickness": 2, "color": "#222"},
      "encoding": {"x": {"field": "g", "type": "nominal", "axis": null}, "y": {"field": "hi", "type": "quantitative", "axis": null}}},
     {"data": {"name": "d_sum"}, "mark": {"type": "tick", "size": 25, "thickness": 3, "color": "#111"},
      "encoding": {"x": {"field": "g", "type": "nominal", "axis": {"orient": "top", "title": "TAMs", "labels": false, "ticks": false, "domain": false, "titleFontSize": 26, "titlePadding": 30}},
                   "y": {"field": "m", "type": "quantitative", "axis": {"orient": "left", "values": [0.3,0.4,0.6,0.7,0.8,0.9], "labels": false, "domain": false, "tickSize": 5, "title": null}}}},
     {"data": {"name": "d_sig"}, "mark": {"type": "text", "fontSize": 22, "fontWeight": "bold", "baseline": "middle", "color": "#111"},
      "encoding": {"x": {"field": "g", "type": "nominal", "axis": null}, "y": {"datum": 1.63, "axis": null}, "text": {"field": "s"}}},
     {"data": {"values": [{}]}, "mark": {"type": "rule", "strokeDash": [3, 3.5], "strokeWidth": 3, "color": "#111"},
      "encoding": {"y": {"datum": 1, "axis": null}}}
    ]
   },
   {
    "width": 438, "height": 313,
    "title": {"text": "E", "anchor": "start", "frame": "group", "dx": -136, "dy": 93, "baseline": "alphabetic"},
    "resolve": {"axis": {"x": "independent", "y": "independent"}},
    "layer": [
     {"data": {"name": "e_pts"}, "mark": {"type": "point", "filled": true, "stroke": "#111", "strokeWidth": 1.5, "opacity": 1},
      "encoding": {
        "x": {"field": "g", "type": "nominal", "scale": {"domain": ["CD39 ASO 100 mg/kg","CD39 ASO 20 mg/kg","CD39 ASO 10 mg/kg","control oligo 1","untreated"], "paddingInner": 0.457, "paddingOuter": 0.7}, "axis": {"title": null, "labelAngle": -45, "labelFontSize": 26, "labelOverlap": false, "labelPadding": 4}},
        "xOffset": {"field": "r", "type": "ordinal", "scale": {"domain": [1,2,3,4,5,6,7,8,9], "paddingOuter": 0.5}},
        "y": {"field": "v", "type": "quantitative", "scale": {"type": "log", "domain": [0.1, 3], "nice": false}, "axis": {"values": [0.1,0.2,0.5,1,2,3], "format": "~g", "title": "CD39 fold MFI", "labelFontSize": 24, "titlePadding": 8}},
        "shape": {"field": "t", "type": "nominal", "scale": {"domain": ["PD-1+ CD8","PD-1- CD8"], "range": ["circle","triangle-up"]},
                  "legend": {"orient": "none", "legendX": 290, "legendY": 213, "title": null, "labelFontSize": 28, "symbolStrokeColor": "#111", "symbolStrokeWidth": 1.5, "rowPadding": 10, "labelOffset": 25}},
        "fill": {"field": "t", "type": "nominal", "scale": {"domain": ["PD-1+ CD8","PD-1- CD8"], "range": ["#111","white"]}},
        "size": {"field": "t", "type": "nominal", "scale": {"domain": ["PD-1+ CD8","PD-1- CD8"], "range": [190, 60]}}
      }},
     {"data": {"name": "e_sum"}, "mark": {"type": "rule", "strokeWidth": 2, "color": "#222"},
      "encoding": {"x": {"field": "g", "type": "nominal", "axis": null}, "y": {"field": "lo", "type": "quantitative", "axis": null}, "y2": {"field": "hi"}}},
     {"data": {"name": "e_sum"}, "mark": {"type": "tick", "size": 13, "thickness": 2, "color": "#222"},
      "encoding": {"x": {"field": "g", "type": "nominal", "axis": null}, "y": {"field": "lo", "type": "quantitative", "axis": null}}},
     {"data": {"name": "e_sum"}, "mark": {"type": "tick", "size": 13, "thickness": 2, "color": "#222"},
      "encoding": {"x": {"field": "g", "type": "nominal", "axis": null}, "y": {"field": "hi", "type": "quantitative", "axis": null}}},
     {"data": {"name": "e_sum"}, "mark": {"type": "tick", "size": 25, "thickness": 3, "color": "#111"},
      "encoding": {"x": {"field": "g", "type": "nominal", "axis": {"orient": "top", "title": "CD8", "labels": false, "ticks": false, "domain": false, "titleFontSize": 26, "titlePadding": 41}},
                   "y": {"field": "m", "type": "quantitative", "axis": {"orient": "left", "values": [0.3,0.4,0.6,0.7,0.8,0.9], "labels": false, "domain": false, "tickSize": 5, "title": null}}}},
     {"data": {"values": [{}]}, "mark": {"type": "rule", "strokeDash": [3, 3.5], "strokeWidth": 3, "color": "#111"},
      "encoding": {"y": {"datum": 1, "axis": null}}}
    ]
   }
  ]
 }
]
}
